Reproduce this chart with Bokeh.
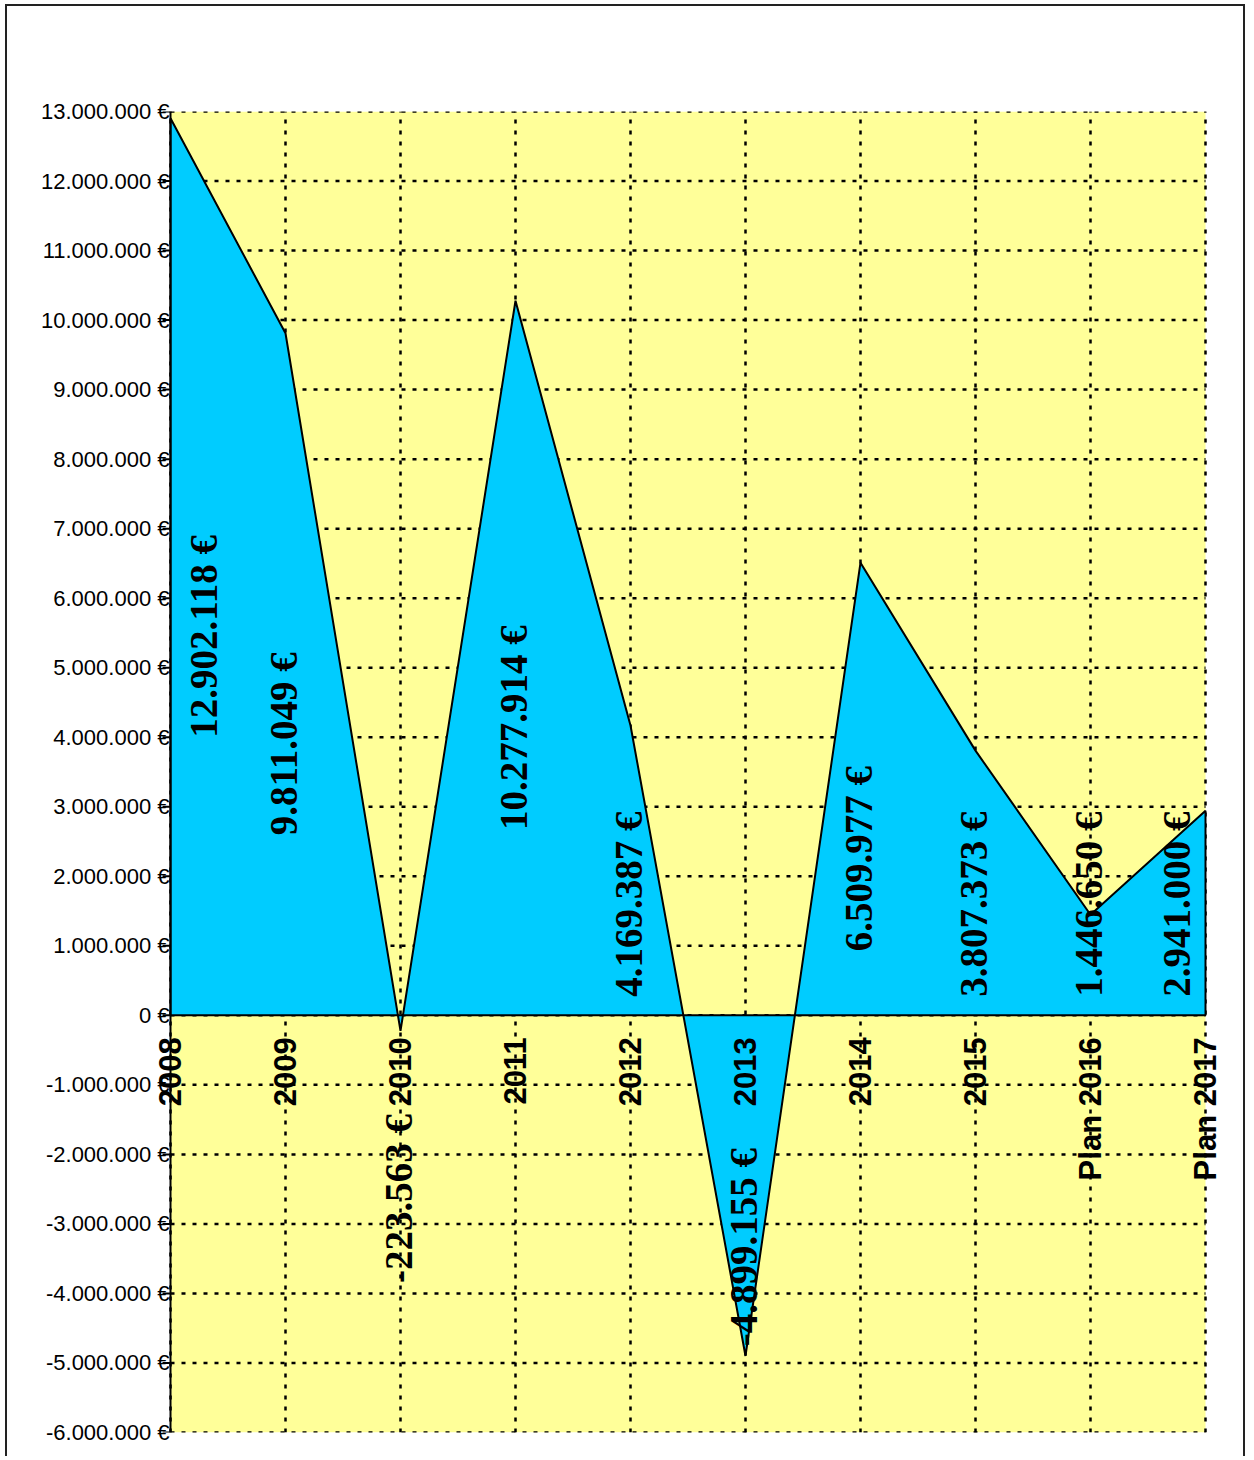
import math
from bokeh.plotting import figure
from bokeh.models import (Range1d, LinearAxis, FixedTicker, CustomJSTickFormatter,
                          ColumnDataSource, LabelSet)
from bokeh.core.properties import value
from bokeh.embed import file_html
from bokeh.resources import INLINE

# ---- data ----
categories = ["2008", "2009", "2010", "2011", "2012", "2013", "2014", "2015",
              "Plan 2016", "Plan 2017"]
results = [12902118, 9811049, -223563, 10277914, 4169387, -4899155,
           6509977, 3807373, 1446650, 2941000]
y_ticks = list(range(-6000000, 13000001, 1000000))

xs = list(range(len(categories)))
y_lo, y_hi = y_ticks[0], y_ticks[-1]
area_w_px = 1035                       # pixel width of the yellow plot area
upx = (xs[-1] - xs[0]) / area_w_px     # x data units per pixel
pad = 20 * upx                         # free space beside the plot area

p = figure(width=1240, height=1452, output_backend="svg", toolbar_location=None,
           x_range=Range1d(xs[0] - pad, xs[-1] + pad), y_range=Range1d(y_lo, y_hi),
           x_axis_location=None, y_axis_location=None,
           min_border_left=143, min_border_top=105, min_border_right=22,
           min_border_bottom=26)
p.background_fill_color = "white"
p.border_fill_color = "white"
p.outline_line_color = None
p.styles = {"border-left": "2px solid #222", "border-top": "2px solid #222",
            "border-right": "2px solid #222", "margin-left": "5px",
            "margin-top": "4px"}
for g in list(p.grid):
    p.center.remove(g)

# yellow plot area
p.quad(left=xs[0], right=xs[-1], bottom=y_lo, top=y_hi,
       fill_color="#FFFF99", line_color=None, level="image")

# y axis labels (axis line and ticks drawn as glyphs at the first category)
yaxis = LinearAxis(ticker=FixedTicker(ticks=y_ticks))
yaxis.formatter = CustomJSTickFormatter(code="""
const s = Math.abs(tick).toFixed(0).replace(/\\B(?=(\\d{3})+(?!\\d))/g, ".");
return (tick < 0 ? "-" : "") + s + " €";
""")
yaxis.axis_line_color = None
yaxis.major_tick_line_color = None
yaxis.major_tick_out = 0
yaxis.major_tick_in = 0
yaxis.minor_tick_line_color = None
yaxis.major_label_standoff = -19
yaxis.major_label_text_font = "Liberation Sans"
yaxis.major_label_text_font_size = "22px"
yaxis.major_label_text_color = "black"
p.add_layout(yaxis, "left")

# dotted grid lines, limited to the plot area
grid_style = dict(line_color="black", line_width=2.5, line_dash="4 7", level="underlay")
p.multi_line(xs=[[xs[0], xs[-1]] for _ in y_ticks], ys=[[t, t] for t in y_ticks],
             **grid_style)
p.multi_line(xs=[[x, x] for x in xs], ys=[[y_lo, y_hi] for _ in xs], **grid_style)

# area
px = [xs[0]] + xs + [xs[-1]]
py = [0] + results + [0]
p.patch(px, py, fill_color="#00CCFF", line_color="black", line_width=2)

# y axis line and ticks
p.segment(x0=[xs[0]], y0=[y_lo], x1=[xs[0]], y1=[y_hi], line_color="black", line_width=2)
p.segment(x0=[xs[0] - 8 * upx] * len(y_ticks), y0=y_ticks,
          x1=[xs[0]] * len(y_ticks), y1=y_ticks, line_color="black", line_width=2)

# x category labels placed below zero line
cat_src = ColumnDataSource(dict(x=xs, y=[0] * len(xs), t=categories))
p.add_layout(LabelSet(x="x", y="y", text="t", source=cat_src, angle=math.pi / 2,
                      text_align="right", text_baseline="middle", y_offset=-22,
                      text_font=value("Liberation Sans"), text_font_style="bold",
                      text_font_size="31px", text_color="black"))

# value labels
def fmt(v):
    return f"{v:,}".replace(",", ".") + " €"

def label_center(v):
    if v >= 0:
        return max(v / 2 - 1.0e6, 1.6e6)
    return -2.6e6 - 0.15 * abs(v)

n = len(xs)
offs = [33 if i == 0 else (-29 if i == n - 1 else -2) for i in range(n)]
src = ColumnDataSource(dict(x=xs, y=[label_center(v) for v in results],
                            t=[fmt(v) for v in results], xo=offs))
p.add_layout(LabelSet(x="x", y="y", text="t", x_offset="xo", source=src,
                      angle=math.pi / 2, text_align="center", text_baseline="middle",
                      text_font=value("Liberation Serif"), text_font_style="bold",
                      text_font_size="39px", text_color="black"))

open("out.html", "w").write(file_html(p, INLINE))
